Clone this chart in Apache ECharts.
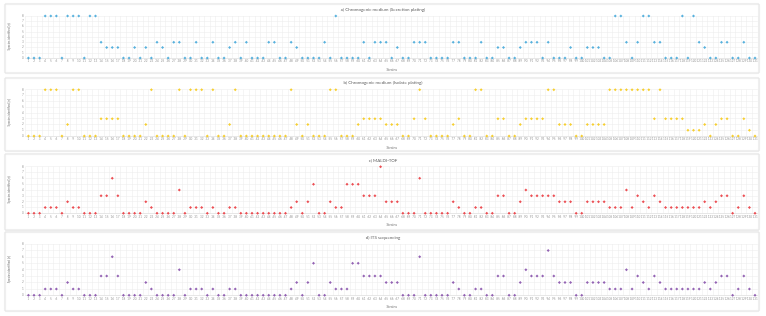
<!DOCTYPE html>
<html>
<head>
<meta charset="utf-8">
<script src="https://cdn.jsdelivr.net/npm/echarts@6/dist/echarts.min.js"></script>
<style>
  html, body { margin: 0; padding: 0; background: #fff; }
  #chart { width: 766px; height: 316px; }
</style>
</head>
<body>
<div id="chart"></div>
<script>
// strains 1..131
const strains = Array.from({ length: 131 }, (_, i) => String(i + 1))
const yTicks = [0, 1, 2, 3, 4, 5, 6, 7, 8]

const titles = [
  'a) Chromogenic medium (Secretion plating)',
  'b) Chromogenic medium (Isolate plating)',
  'c) MALDI-TOF',
  'd) ITS sequencing'
]

const chromoSecretion = [
  0,0,0,8,8,8,0,8,8,8,0,8,8,
  3,2,2,2,0,0,2,0,2,0,3,2,0,
  3,3,0,0,3,0,0,3,0,0,2,3,0,3,0,0,0,
  3,3,0,0,3,2,0,0,0,0,3,0,8,0,0,0,0,
  3,0,3,3,3,0,2,0,0,3,3,3,0,0,0,0,3,3,0,0,0,3,0,0,2,2,0,
  0,2,3,3,3,0,3,0,0,0,2,0,0,2,2,2,0,0,8,8,3,0,3,8,8,3,3,0,0,0,8,0,8,3,2,0,0,3,3,0,0,3,0,0
]

const chromoIsolate = [
  0,0,0,8,8,8,0,2,8,8,0,0,0,
  3,3,3,3,0,0,0,0,2,8,0,0,0,
  0,8,0,8,8,8,0,8,0,0,2,8,0,0,0,0,0,
  0,0,0,0,8,2,0,2,0,0,0,8,8,0,0,0,2,
  3,3,3,3,2,2,2,0,0,3,8,3,0,0,0,0,2,3,0,0,8,8,0,0,3,3,0,
  0,2,3,3,3,3,8,8,2,2,2,0,0,2,2,2,2,8,8,8,8,8,8,8,8,3,8,3,3,3,3,1,1,1,2,0,2,3,3,0,0,3,1,0
]

const maldiTof = [
  0,0,0,1,1,1,0,2,1,1,0,0,0,
  3,3,6,3,0,0,0,0,2,1,0,0,0,
  0,4,0,1,1,1,0,1,0,0,1,1,0,0,0,0,0,
  0,0,0,0,1,2,0,2,5,0,0,2,1,1,5,5,5,
  3,3,3,8,2,2,2,0,0,0,6,0,0,0,0,0,2,1,0,0,1,1,0,0,3,3,0,
  0,2,4,3,3,3,3,3,2,2,2,0,0,2,2,2,2,1,1,1,4,1,3,2,1,3,2,1,1,1,1,1,1,1,2,1,2,3,3,0,1,3,1,0
]

const itsSeq = [
  0,0,0,1,1,1,0,2,1,1,0,0,0,
  3,3,6,3,0,0,0,0,2,1,0,0,0,
  0,4,0,1,1,1,0,1,0,0,1,1,0,0,0,0,0,
  0,0,0,0,1,2,0,2,5,0,0,2,1,1,1,5,5,
  3,3,3,3,2,2,2,0,0,0,6,0,0,0,0,0,2,1,0,0,1,1,0,0,3,3,0,
  0,2,4,3,3,3,7,3,2,2,2,0,0,2,2,2,2,1,1,1,4,1,3,2,1,3,2,1,1,1,1,1,1,1,2,1,2,3,3,0,1,3,1,0
]

const seriesData = [chromoSecretion, chromoIsolate, maldiTof, itsSeq]
const colors = ['#2f9fd6', '#f5c400', '#e8262c', '#7b3fa3']

// panel layout: card box, plot top/height, title y
const panels = [
  { box: [5, 4, 754, 69], top: 16, height: 42, titleY: 7 },
  { box: [5, 78, 754, 73], top: 89.7, height: 46.3, titleY: 80 },
  { box: [5, 154, 754, 76], top: 166.7, height: 46.6, titleY: 158 },
  { box: [5, 232, 754, 79], top: 244, height: 51.3, titleY: 235 }
]

const font = 'Lato, "Open Sans", sans-serif'
const myCharts = echarts.init(document.getElementById('chart'))

myCharts.setOption({
  animation: false,
  graphic: panels.map(p => ({
    type: 'rect',
    silent: true,
    z: -10,
    shape: { x: p.box[0], y: p.box[1], width: p.box[2], height: p.box[3] },
    style: { fill: '#fff', stroke: '#e4e4e4', lineWidth: 1, shadowBlur: 2, shadowColor: 'rgba(0,0,0,0.06)' }
  })),
  title: titles.map((t, i) => ({
    text: t,
    left: 'center',
    top: panels[i].titleY,
    padding: 0,
    textStyle: { fontSize: 4.5, fontWeight: 'normal', color: '#666', fontFamily: font }
  })),
  grid: panels.map(p => ({ left: 16.2, right: 8.2, top: p.top, height: p.height })),
  xAxis: panels.map((p, i) => ({
    type: 'category',
    gridIndex: i,
    data: strains,
    boundaryGap: true,
    name: 'Strains',
    nameLocation: 'middle',
    nameGap: 10,
    nameTextStyle: { fontSize: 3.5, color: '#777', fontFamily: font },
    axisLine: { lineStyle: { color: '#d9d9d9', width: 0.5 } },
    axisTick: { show: false },
    axisLabel: { interval: 0, fontSize: 3, color: '#999', margin: 2, fontFamily: font },
    splitLine: { show: true, lineStyle: { color: '#ebebeb', width: 0.5 } }
  })),
  yAxis: panels.map((p, i) => ({
    type: 'value',
    gridIndex: i,
    min: 0,
    max: yTicks[yTicks.length - 1],
    interval: 1,
    name: 'Species identified (n)',
    nameLocation: 'middle',
    nameGap: 5,
    nameTextStyle: { fontSize: 3, color: '#777', fontFamily: font },
    axisLine: { show: false },
    axisTick: { show: false },
    axisLabel: { fontSize: 3, color: '#999', margin: 2, fontFamily: font },
    splitLine: { show: true, lineStyle: { color: '#ebebeb', width: 0.5 } }
  })),
  series: seriesData.map((d, i) => ({
    type: 'scatter',
    xAxisIndex: i,
    yAxisIndex: i,
    data: d,
    symbol: 'diamond',
    symbolSize: 3,
    itemStyle: { color: colors[i] }
  }))
})
</script>
</body>
</html>
